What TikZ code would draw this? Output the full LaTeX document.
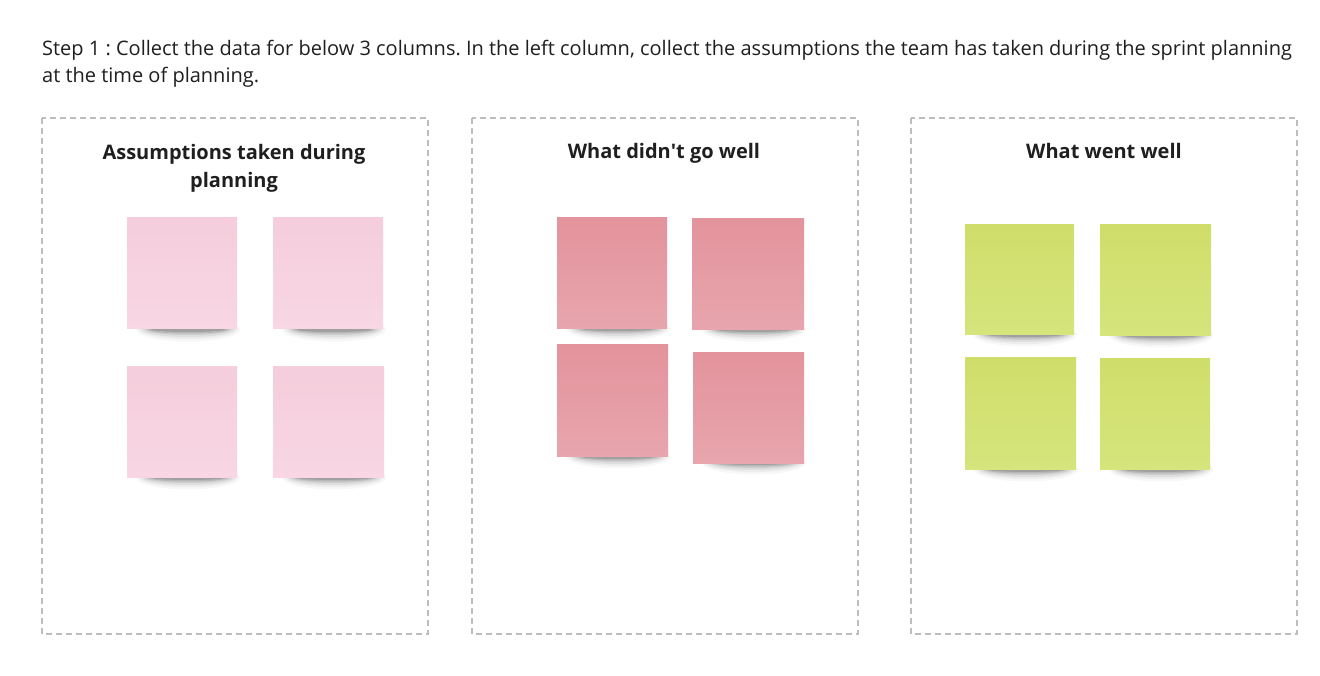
\documentclass[tikz,border=0pt]{standalone}
\usepackage{fontspec}
\setmainfont{Open Sans}
\usetikzlibrary{calc}
\frenchspacing
\newcommand{\straightquote}{\XeTeXglyph\XeTeXglyphindex"quotesingle"\relax}
\definecolor{txt}{HTML}{1F1F1F}
\definecolor{dashc}{HTML}{BDBDBD}
\definecolor{pinkT}{HTML}{F5CDDC}
\definecolor{pinkB}{HTML}{F8D6E3}
\definecolor{redT}{HTML}{E3939C}
\definecolor{redB}{HTML}{E8A5AD}
\definecolor{grnT}{HTML}{CFDE69}
\definecolor{grnB}{HTML}{D6E57C}
\tikzset{
  column/.style={draw=dashc, line width=1.2pt, dash pattern=on 6pt off 4pt, fill=none},
  title/.style={font=\fontsize{20}{28}\selectfont\bfseries, text=txt, align=center, inner sep=0pt},
  body/.style={anchor=base west, inner sep=0pt, text=txt, font=\fontsize{20}{28}\selectfont},
  sticky/.style={rectangle, inner sep=0pt, minimum width=110pt, minimum height=111pt, anchor=north west},
  pinknote/.style={sticky, top color=pinkT, bottom color=pinkB},
  rednote/.style={sticky, top color=redT, bottom color=redB},
  grnnote/.style={sticky, top color=grnT, bottom color=grnB},
}
\begin{document}
\begin{tikzpicture}[x=1pt, y=-1pt]
\useasboundingbox (0,0) rectangle (1320,676);
\fill[white] (0,0) rectangle (1320,676);

\node[body] (intro) at (42,56)
  {Step 1 : Collect the data for below 3 columns. In the left column, collect the assumptions the team has taken during the sprint planning};
\node[body] (intro2) at (42,83)
  {at the time of planning.};

% columns
\draw[column] (42,118) rectangle (428,634);
\draw[column] (472,118) rectangle (858,634);
\draw[column] (911,118) rectangle (1297,634);

% titles
\node[title, anchor=base] (t1a) at (234,160) {Assumptions taken during};
\node[title, anchor=base] (t1b) at (234,188) {planning};
\node[title, anchor=base] (t2) at (664,159) {What didn\straightquote t go well};
\node[title, anchor=base] (t3) at (1104,159) {What went well};

% shadow anchors (bottom centres of the notes)
\coordinate (s11) at (188,329);
\coordinate (s12) at (334,329);
\coordinate (s13) at (188,477);
\coordinate (s14) at (334,477);
\coordinate (s21) at (618,328);
\coordinate (s22) at (754,329);
\coordinate (s23) at (618,456);
\coordinate (s24) at (754,462);
\coordinate (s31) at (1025,334);
\coordinate (s32) at (1161,335);
\coordinate (s33) at (1026,469);
\coordinate (s34) at (1161,469);
\foreach \s in {s11,s12,s13,s14,s21,s22,s23,s24,s31,s32,s33,s34}{
  \foreach \w/\h/\o in {52/12/0.03, 49/9.5/0.045, 46/7.5/0.06, 43/5.5/0.08, 40/4/0.10, 37/2.5/0.12}{
    \fill[black, opacity=\o] ($(\s)+(0,0.5)$) ellipse [x radius=\w, y radius=\h];
  }
}

% notes column 1
\node[pinknote] (n11) at (127,217) {};
\node[pinknote] (n12) at (273,217) {};
\node[pinknote] (n13) at (127,366) {};
\node[pinknote, minimum width=111pt] (n14) at (273,366) {};
% notes column 2
\node[rednote] (n21) at (557,217) {};
\node[rednote, minimum width=112pt] (n22) at (692,218) {};
\node[rednote, minimum width=111pt, minimum height=112pt] (n23) at (557,344) {};
\node[rednote, minimum width=111pt] (n24) at (693,352) {};
% notes column 3
\node[grnnote, minimum width=109pt, minimum height=110pt] (n31) at (965,224) {};
\node[grnnote, minimum width=111pt] (n32) at (1100,224) {};
\node[grnnote, minimum width=111pt, minimum height=112pt] (n33) at (965,357) {};
\node[grnnote, minimum width=110pt] (n34) at (1100,358) {};
\end{tikzpicture}
\end{document}
